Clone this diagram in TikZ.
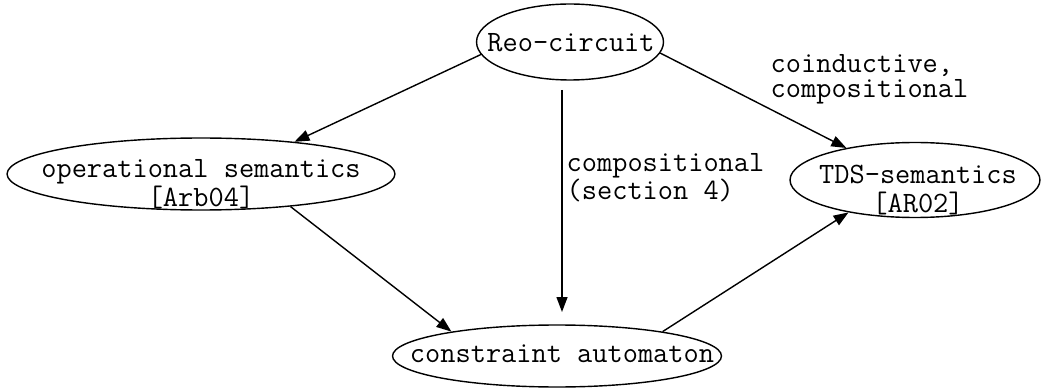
\documentclass[tikz,border=0pt]{standalone}
\usepackage{fontspec}
\usetikzlibrary{shapes,arrows.meta}

\begin{document}
\begin{tikzpicture}[x=0.02cm,y=-0.02cm,line width=0.8pt,
  every node/.style={font=\ttfamily\fontsize{16.8}{17}\selectfont,inner sep=0pt},
  sem/.style={ellipse,draw},
  semtext/.style={align=center,anchor=base,font=\ttfamily\fontsize{16.8}{17}\selectfont},
  remark/.style={align=left,anchor=base west,font=\ttfamily\fontsize{16.8}{14.5}\selectfont},
  arr/.style={-{Triangle[length=0.3cm,width=0.22cm]}}]
\useasboundingbox (0,0) rectangle (1044,388);
% base anchor of a two-line text sits on its last line
\node[sem,minimum width=3.74cm,minimum height=1.52cm] at (570,42) (reo) {};
\node[semtext] at (571,52) (reotext) {Reo-circuit};
\node[sem,minimum width=7.76cm,minimum height=1.44cm] at (201,174) (opsem) {};
\node[semtext] at (201,207) (opsemtext) {operational semantics\\{[Arb04]}};
\node[sem,minimum width=5.0cm,minimum height=1.5cm] at (915,180) (tds) {};
\node[semtext] at (918,213) (tdstext) {TDS-semantics\\{[AR02]}};
\node[sem,minimum width=6.58cm,minimum height=1.24cm] at (557,356) (ca) {};
\node[semtext] at (562,362) (catext) {constraint automaton};
\node[remark] at (770,98) (coind) {coinductive,\\compositional};
\node[remark] at (566,200) (comp) {compositional\\(section 4)};
\coordinate (vtop) at (562,90);
\coordinate (vbot) at (562,312);
\draw[arr] (reo.188) -- (opsem.19);
\draw[arr] (vtop) -- (vbot);
\draw[arr] (reo.-7) -- (tds.155);
\draw[arr] (opsem.-20) -- (ca.167);
\draw[arr] (ca.13) -- (tds.206);
\end{tikzpicture}
\end{document}
